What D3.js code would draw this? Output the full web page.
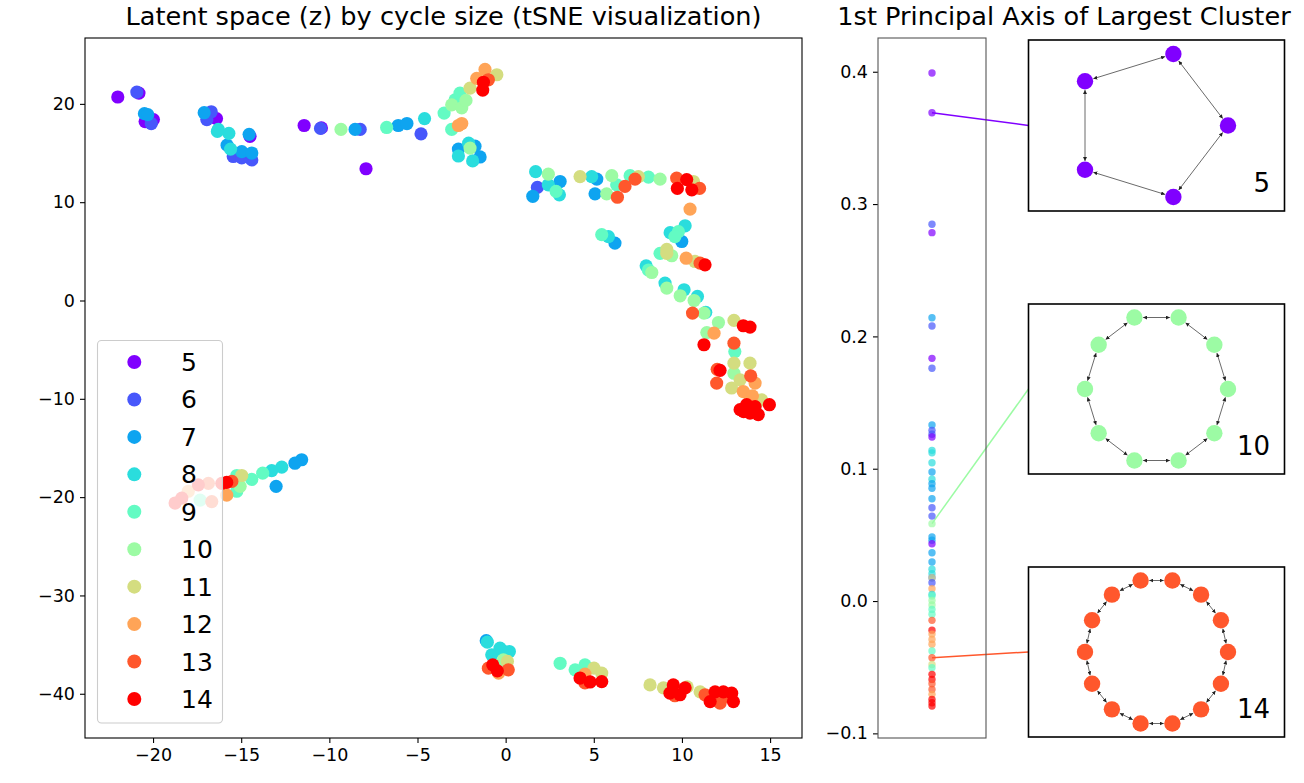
<!DOCTYPE html>
<html><head><meta charset="utf-8">
<script src="https://cdn.jsdelivr.net/npm/d3@7"></script>
<style>
body{margin:0;background:#fff;}
svg{font-family:"DejaVu Sans",sans-serif;}
</style></head>
<body>
<svg id="chart" width="1304" height="783"></svg>
<script>
// ---------- DATA ----------
const cycles = [5,6,7,8,9,10,11,12,13,14];
const cycleColors = ["#8000ff","#4757fb","#0ea4f0","#2adddd","#63fbc3","#9cfba4","#d4dd80","#ffa457","#ff572c","#ff0000"];

// tSNE coordinates per cycle size [x, y]
const c5 = [[-22.0,20.7],[-20.8,21.1],[-20.45,18.2],[-19.98,18.4],[-16.4,18.5],[-14.5,16.7],[-11.43,17.8],[-10.45,17.55],[-7.92,13.4]];
const c6 = [[-20.92,21.2],[-20.1,18.0],[-16.7,19.2],[-16.95,18.4],[-15.45,14.65],[-14.4,14.3],[-14.97,14.5],[-10.5,17.5],[-8.25,17.4],[-4.8,16.95],[1.8,11.5]];
const c7 = [[-20.49,19.0],[-20.3,18.9],[-17.1,19.1],[-14.55,16.9],[-15.8,15.8],[-14.97,15.15],[-14.4,15.0],[-8.54,17.4],[-6.09,17.8],[-5.6,18.0],[-2.68,15.4],[-1.74,15.7],[-1.45,14.6],[3.09,12.1],[1.54,10.6],[5.17,12.35],[5.07,10.85],[6.2,5.84],[9.99,6.0],[-11.57,-16.2],[-11.95,-16.55],[-13.02,-18.9],[-1.1,-34.6]];
const c8 = [[-16.3,17.4],[-15.7,17.0],[-16.35,17.2],[-15.6,15.4],[-4.6,18.5],[-2.68,14.7],[-2.1,16.0],[-1.87,14.2],[1.7,13.1],[2.42,11.77],[3.05,10.75],[4.88,12.6],[5.83,6.5],[9.33,6.9],[10.18,7.6],[7.97,3.53],[9.04,1.77],[10.12,1.09],[10.88,0.41],[11.35,-1.2],[-12.7,-16.95],[-13.27,-17.3],[-1.04,-34.75],[-0.32,-35.36],[0.21,-35.7],[-0.79,-36.04],[-0.2,-35.6]];
const c9 = [[-6.75,17.6],[-3.49,19.06],[-2.87,20.4],[-2.59,21.1],[-3.06,17.4],[2.86,11.1],[6.3,11.77],[7.06,12.7],[8.1,12.55],[5.45,6.7],[9.8,7.0],[9.6,6.5],[8.76,4.8],[8.1,3.1],[13.0,-5.2],[-13.78,-17.56],[-14.4,-18.2],[-15.25,-17.8],[-15.25,-19.4],[-17.33,-20.3],[3.09,-36.9],[3.94,-37.57],[4.5,-37.06]];
const c10 = [[-9.34,17.4],[-3.06,19.9],[-2.49,19.6],[-2.25,20.35],[-2.02,15.5],[2.42,12.85],[5.73,10.85],[6.02,12.7],[8.76,12.35],[9.42,4.55],[8.29,2.85],[9.14,1.26],[9.9,0.48],[10.69,0.0],[11.25,-1.28],[12.07,-2.24],[11.41,-3.26],[12.95,-7.4],[-15.06,-18.9],[-0.13,-36.55]];
const c11 = [[-2.02,21.6],[-0.5,22.96],[4.22,12.6],[7.53,12.6],[10.65,12.1],[9.14,5.2],[9.14,4.8],[10.74,3.97],[12.95,-2.03],[12.95,-6.37],[13.86,-6.37],[12.82,-8.9],[13.3,-8.07],[13.86,-9.77],[14.52,-10.1],[-14.97,-17.8],[0.1,-36.7],[5.01,-37.4],[5.45,-37.9],[8.19,-39.1],[8.95,-39.4],[11.03,-39.8],[10.3,-39.3]];
const c12 = [[-1.64,22.6],[-1.17,23.5],[-2.68,17.8],[-2.49,18.0],[10.46,9.3],[10.24,4.3],[11.82,-3.32],[13.48,-9.26],[14.15,-8.4],[14.0,-9.7],[-15.82,-19.8],[-18.0,-19.4],[-0.4,-37.9],[4.5,-38.0]];
const c13 = [[-0.98,22.45],[6.34,10.5],[6.77,11.6],[7.34,12.35],[9.7,12.45],[11.0,11.4],[11.03,3.8],[10.6,-1.28],[12.95,-4.34],[12.0,-7.0],[11.97,-8.4],[13.9,-7.66],[-15.53,-18.4],[-16.86,-18.6],[-16.67,-20.45],[-0.98,-37.4],[0.15,-37.57],[4.5,-38.9],[9.6,-40.2],[11.31,-40.1],[12.16,-40.96],[12.6,-40.3]];
const c14 = [[-1.26,22.2],[-1.3,21.4],[10.27,12.3],[9.74,11.4],[10.56,11.26],[11.31,3.63],[11.25,-4.5],[13.48,-2.57],[13.86,-2.7],[12.16,-7.1],[13.3,-11.1],[13.67,-10.6],[13.86,-11.46],[14.15,-10.8],[14.33,-11.6],[14.96,-10.6],[13.5,-11.3],[-15.82,-18.5],[-18.37,-20.1],[-18.75,-20.6],[-17.43,-18.75],[-16.1,-18.6],[-0.73,-37.06],[-0.47,-37.67],[4.22,-38.4],[4.79,-38.8],[5.45,-38.76],[9.51,-39.1],[9.32,-39.94],[10.18,-39.4],[9.89,-40.1],[11.6,-40.8],[11.88,-39.8],[12.35,-39.8],[12.82,-39.94],[12.92,-40.8]];
const tsneByCycle = [c5,c6,c7,c8,c9,c10,c11,c12,c13,c14];

const xTicks = [-20,-15,-10,-5,0,5,10,15];
const yTicks = [-40,-30,-20,-10,0,10,20];

// 1st principal axis values (largest cluster) and their cycle sizes
const axisVals = [0.399,0.369,0.2847,0.2784,0.2141,0.2079,0.1834,0.1759,0.133,0.129,0.126,0.124,0.1139,0.112,0.1045,0.0975,0.092,0.0887,0.0852,0.0773,0.0705,0.0642,0.0585,0.0484,0.0459,0.0433,0.0365,0.0295,0.024,0.0206,0.0176,0.0176,0.0138,0.0093,0.005,0.0038,0.0005,-0.003,-0.0063,-0.01,-0.0146,-0.022,-0.025,-0.029,-0.0327,-0.0378,-0.0428,-0.0479,-0.0504,-0.0554,-0.0592,-0.0625,-0.0668,-0.0705,-0.0743,-0.0769,-0.0794];
const axisCycles = [5,5,6,5,7,6,5,6,7,6,6,5,8,8,8,7,8,7,7,7,6,6,10,7,7,5,7,7,8,8,6,11,6,12,8,9,10,10,9,9,13,14,12,12,12,9,13,11,9,14,14,13,13,12,14,14,14];
const axisTicks = [-0.1,0.0,0.1,0.2,0.3,0.4];

// example graphs shown on the right
const exampleSizes = [5,10,14];
const exampleLabels = ["5","10","14"];
const exampleAxisVals = [0.369,0.0585,-0.0428];
const exampleColors = ["#8000ff","#9cfba4","#ff572c"];

// ---------- DRAW ----------
const svg = d3.select("#chart");
const FONT = "DejaVu Sans, sans-serif";

// main tSNE axes
const L = {l:85, r:802, t:38, b:738};
const x = d3.scaleLinear().domain([-23.86,16.81]).range([L.l,L.r]);
const y = d3.scaleLinear().domain([-44.5,26.7]).range([L.b,L.t]);

const gMain = svg.append("g");
tsneByCycle.forEach((pts,i)=>{
  gMain.append("g").selectAll("circle").data(pts).join("circle")
    .attr("cx",d=>x(d[0])).attr("cy",d=>y(d[1])).attr("r",6.6)
    .attr("fill",cycleColors[i]);
});

const fmtInt = d=>d<0?"\u2212"+Math.abs(d):d;
const xAxis = svg.append("g").attr("transform",`translate(0,${L.b})`)
  .call(d3.axisBottom(x).tickValues(xTicks).tickSize(5).tickPadding(6).tickFormat(fmtInt));
const yAxis = svg.append("g").attr("transform",`translate(${L.l},0)`)
  .call(d3.axisLeft(y).tickValues(yTicks).tickSize(5).tickPadding(5).tickFormat(fmtInt));
[xAxis,yAxis].forEach(a=>{
  a.select(".domain").remove();
  a.selectAll("text").attr("font-size",17.5).attr("font-family",FONT).attr("fill","#000");
  a.selectAll("line").attr("stroke","#000").attr("stroke-width",1.1);
});
svg.append("rect").attr("x",L.l).attr("y",L.t).attr("width",L.r-L.l).attr("height",L.b-L.t)
  .attr("fill","none").attr("stroke","#000").attr("stroke-width",1.1);

svg.append("text").attr("x",(L.l+L.r)/2).attr("y",25).attr("text-anchor","middle")
  .attr("font-size",25.6).attr("font-family",FONT).text("Latent space (z) by cycle size (tSNE visualization)");

// legend
const leg = svg.append("g");
leg.append("rect").attr("x",97.5).attr("y",340.5).attr("width",125).attr("height",382.5).attr("rx",4)
  .attr("fill","#fff").attr("fill-opacity",0.8).attr("stroke","#cccccc").attr("stroke-width",1.1);
const legY = d3.scaleLinear().domain([0,9]).range([362,699]);
cycles.forEach((c,i)=>{
  leg.append("circle").attr("cx",134.3).attr("cy",legY(i)).attr("r",7).attr("fill",cycleColors[i]);
  leg.append("text").attr("x",181).attr("y",legY(i)).attr("dy","0.36em").attr("font-size",25)
    .attr("font-family",FONT).text(c);
});

// middle axes
const M = {l:878, r:986, t:38, b:738};
const xm = d3.scaleLinear().domain([-1,1]).range([M.l,M.r]);
const ym = d3.scaleLinear().domain([-0.1035,0.4255]).range([M.b,M.t]);
const colorOf = c=>cycleColors[cycles.indexOf(c)];

// boxes
const boxes = [{t:40,b:211},{t:304,b:474},{t:567,b:737}];
const B = {l:1028.5, r:1284.5};

// connector lines (drawn under points)
exampleAxisVals.forEach((v,i)=>{
  svg.append("line").attr("x1",xm(0)).attr("y1",ym(v)).attr("x2",B.l).attr("y2",(boxes[i].t+boxes[i].b)/2)
    .attr("stroke",exampleColors[i]).attr("stroke-width",1.5);
});

svg.append("g").selectAll("circle").data(axisVals).join("circle")
  .attr("cx",xm(0)).attr("cy",d=>ym(d)).attr("r",3.7)
  .attr("fill",(d,i)=>colorOf(axisCycles[i])).attr("fill-opacity",0.7);

const ymAxis = svg.append("g").attr("transform",`translate(${M.l},0)`)
  .call(d3.axisLeft(ym).tickValues(axisTicks).tickSize(5).tickPadding(5).tickFormat(d=>d<0?"\u2212"+Math.abs(d).toFixed(1):d.toFixed(1)));
ymAxis.select(".domain").remove();
ymAxis.selectAll("text").attr("font-size",17.5).attr("font-family",FONT).attr("fill","#000");
ymAxis.selectAll("line").attr("stroke","#000").attr("stroke-width",1.1);
svg.append("rect").attr("x",M.l).attr("y",M.t).attr("width",M.r-M.l).attr("height",M.b-M.t)
  .attr("fill","none").attr("stroke","#555").attr("stroke-width",1.1);

svg.append("text").attr("x",1064).attr("y",25).attr("text-anchor","middle")
  .attr("font-size",25.6).attr("font-family",FONT).text("1st Principal Axis of Largest Cluster");

// arrow marker
const defs = svg.append("defs");
defs.append("marker").attr("id","arr").attr("viewBox","0 0 10 10").attr("refX",10).attr("refY",5)
  .attr("markerWidth",4).attr("markerHeight",4).attr("markerUnits","userSpaceOnUse").attr("orient","auto-start-reverse")
  .append("path").attr("d","M0,0 L10,5 L0,10 z").attr("fill","#222");

exampleSizes.forEach((n,i)=>{
  const bx = boxes[i];
  const g = svg.append("g");
  g.append("rect").attr("x",B.l).attr("y",bx.t).attr("width",B.r-B.l).attr("height",bx.b-bx.t)
    .attr("fill","#fff").attr("stroke","#000").attr("stroke-width",1.6);
  const nodes = d3.range(n).map(k=>({a:Math.cos(2*Math.PI*k/n), b:Math.sin(2*Math.PI*k/n)}));
  const cy = (bx.t+bx.b)/2;
  const gx = d3.scaleLinear().domain(d3.extent(nodes,d=>d.a)).range([1085,1228]);
  const gy = d3.scaleLinear().domain(d3.extent(nodes,d=>d.b)).range([cy+71.5,cy-71.5]);
  const r = 8.2;
  const edges = d3.range(n).map(k=>[nodes[k],nodes[(k+1)%n]]);
  g.selectAll("line").data(edges).join("line")
    .each(function(e){
      const x1=gx(e[0].a), y1=gy(e[0].b), x2=gx(e[1].a), y2=gy(e[1].b);
      const dx=x2-x1, dy=y2-y1, len=Math.hypot(dx,dy), ux=dx/len, uy=dy/len;
      d3.select(this).attr("x1",x1+ux*(r+0.5)).attr("y1",y1+uy*(r+0.5))
        .attr("x2",x2-ux*(r+0.5)).attr("y2",y2-uy*(r+0.5));
    })
    .attr("stroke","#444").attr("stroke-width",0.8)
    .attr("marker-start","url(#arr)").attr("marker-end","url(#arr)");
  g.selectAll("circle").data(nodes).join("circle")
    .attr("cx",d=>gx(d.a)).attr("cy",d=>gy(d.b)).attr("r",r).attr("fill",exampleColors[i]);
  g.append("text").attr("x",1270).attr("y",bx.b-19).attr("text-anchor","end")
    .attr("font-size",26).attr("font-family",FONT).text(exampleLabels[i]);
});
</script>
</body></html>
